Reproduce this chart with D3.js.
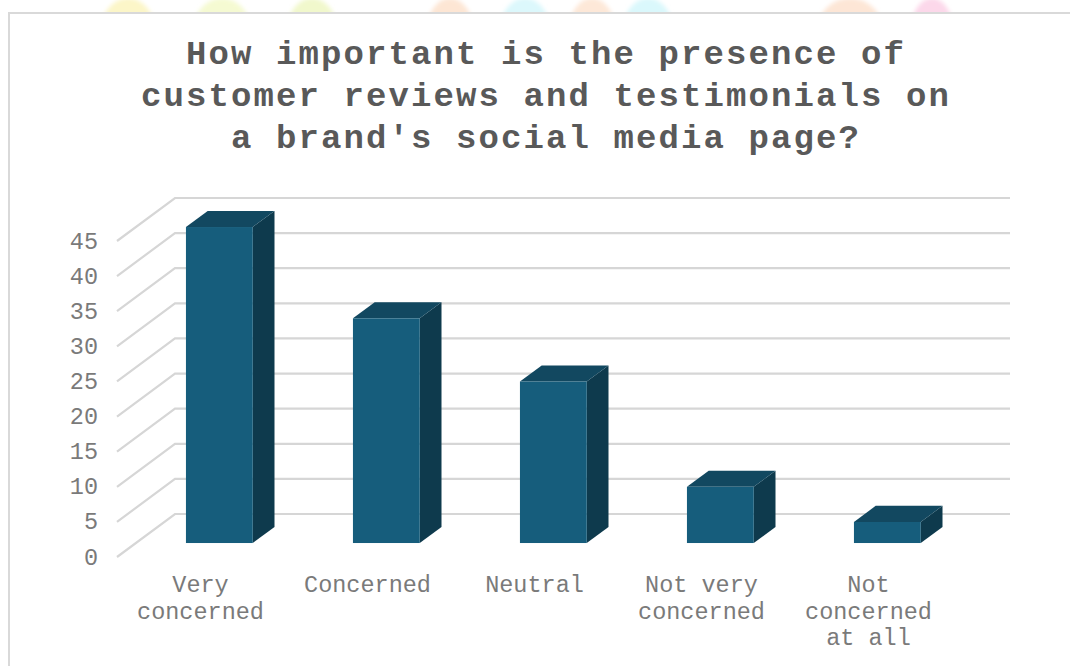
<!DOCTYPE html>
<html>
<head>
<meta charset="utf-8">
<script src="https://cdn.jsdelivr.net/npm/d3@7"></script>
<style>
  html, body { margin: 0; padding: 0; background: #fff; }
  svg { display: block; }
</style>
</head>
<body>
<svg id="chart"></svg>
<script>
// data
const categories = [
  ["Very", "concerned"],
  ["Concerned"],
  ["Neutral"],
  ["Not very", "concerned"],
  ["Not", "concerned", "at all"],
];
const values = [45, 32, 23, 8, 3];
const yTicks = [0, 5, 10, 15, 20, 25, 30, 35, 40, 45];
const titleLines = [
  "How important is the presence of",
  "customer reviews and testimonials on",
  "a brand's social media page?",
];

// faint decoration showing above the chart frame
const blobs = [
  { cx: 128, rx: 28, color: "#fcf6c8" },
  { cx: 222, rx: 30, color: "#f5fad2" },
  { cx: 312, rx: 26, color: "#f1f8cc" },
  { cx: 450, rx: 24, color: "#fde6d4" },
  { cx: 525, rx: 26, color: "#dcf8fc" },
  { cx: 592, rx: 24, color: "#fde8d8" },
  { cx: 648, rx: 26, color: "#daf8fc" },
  { cx: 850, rx: 34, color: "#fde6d6" },
  { cx: 932, rx: 22, color: "#fcd8ea" },
];

const W = 1070, H = 666;
const font = "'Liberation Mono', 'Courier New', monospace";

// 3D depth vector (front plane -> back wall)
const depth = { dx: 58, dy: -43 };
const f0 = 0.325, f1 = 0.70; // bar front / back depth fractions

const svg = d3.select("#chart").attr("width", W).attr("height", H);

svg.append("rect").attr("width", W).attr("height", H).attr("fill", "#fff");

svg.append("defs")
  .append("filter").attr("id", "soft")
  .append("feGaussianBlur").attr("stdDeviation", 2);
svg.append("g")
  .attr("filter", "url(#soft)")
  .selectAll("ellipse")
  .data(blobs)
  .enter()
  .append("ellipse")
  .attr("cx", (d) => d.cx)
  .attr("cy", 34)
  .attr("rx", (d) => d.rx)
  .attr("ry", 36)
  .attr("fill", (d) => d.color);

// chart area frame (right/bottom edges run off the picture)
svg.append("rect")
  .attr("x", 9)
  .attr("y", 13)
  .attr("width", W + 20)
  .attr("height", H + 20)
  .attr("fill", "#fff")
  .attr("stroke", "#d9d9d9")
  .attr("stroke-width", 2);

// title
svg.append("g")
  .selectAll("text")
  .data(titleLines)
  .enter()
  .append("text")
  .attr("x", 546)
  .attr("y", (d, i) => 64 + i * 42)
  .attr("text-anchor", "middle")
  .attr("font-family", font)
  .attr("font-weight", "bold")
  .attr("font-size", 34)
  .attr("letter-spacing", 2.1)
  .attr("fill", "#595959")
  .text((d) => d);

// scales on the front plane
const x = d3.scaleBand()
  .domain(d3.range(categories.length))
  .range([117, 952])
  .paddingInner(0.6)
  .paddingOuter(0.3);

const y = d3.scaleLinear().domain([0, 45]).range([557, 241]);

// gridlines: side wall diagonal + back wall horizontal
svg.append("g")
  .selectAll("path")
  .data(yTicks)
  .enter()
  .append("path")
  .attr("d", (d) => {
    const yy = y(d);
    return `M117,${yy}L${117 + depth.dx},${yy + depth.dy}L1010,${yy + depth.dy}`;
  })
  .attr("fill", "none")
  .attr("stroke", "#d6d6d6")
  .attr("stroke-width", 2.2);

// y tick labels
svg.append("g")
  .selectAll("text")
  .data(yTicks)
  .enter()
  .append("text")
  .attr("x", 98)
  .attr("y", (d) => y(d))
  .attr("dy", "0.32em")
  .attr("text-anchor", "end")
  .attr("font-family", font)
  .attr("font-size", 23.5)
  .attr("fill", "#7a7a7a")
  .text((d) => d);

// bars
const s = f1 - f0;
const bars = svg.append("g")
  .selectAll("g")
  .data(values)
  .enter()
  .append("g");

function geom(v, i) {
  const x0 = x(i) + f0 * depth.dx;
  const x1 = x0 + x.bandwidth();
  const yt = y(v) + f0 * depth.dy;
  const yb = y(0) + f0 * depth.dy;
  return { x0, x1, yt, yb, ox: s * depth.dx, oy: s * depth.dy };
}

bars.append("polygon")
  .attr("points", (v, i) => {
    const g = geom(v, i);
    return [[g.x1, g.yt], [g.x1 + g.ox, g.yt + g.oy], [g.x1 + g.ox, g.yb + g.oy], [g.x1, g.yb]].join(" ");
  })
  .attr("fill", "#0e3a4d");

bars.append("polygon")
  .attr("points", (v, i) => {
    const g = geom(v, i);
    return [[g.x0, g.yt], [g.x0 + g.ox, g.yt + g.oy], [g.x1 + g.ox, g.yt + g.oy], [g.x1, g.yt]].join(" ");
  })
  .attr("fill", "#124860");

bars.append("rect")
  .attr("x", (v, i) => geom(v, i).x0)
  .attr("y", (v, i) => geom(v, i).yt)
  .attr("width", x.bandwidth())
  .attr("height", (v, i) => geom(v, i).yb - geom(v, i).yt)
  .attr("fill", "#165d7c");

// category labels
const labels = svg.append("g")
  .selectAll("text")
  .data(categories)
  .enter()
  .append("text")
  .attr("text-anchor", "middle")
  .attr("font-family", font)
  .attr("font-size", 23.5)
  .attr("fill", "#7a7a7a");

labels.selectAll("tspan")
  .data((d, i) => d.map((line) => ({ line, i })))
  .enter()
  .append("tspan")
  .attr("x", (d) => x(d.i) + x.bandwidth() / 2)
  .attr("y", (d, j) => 592 + j * 26.6)
  .text((d) => d.line);
</script>
</body>
</html>
